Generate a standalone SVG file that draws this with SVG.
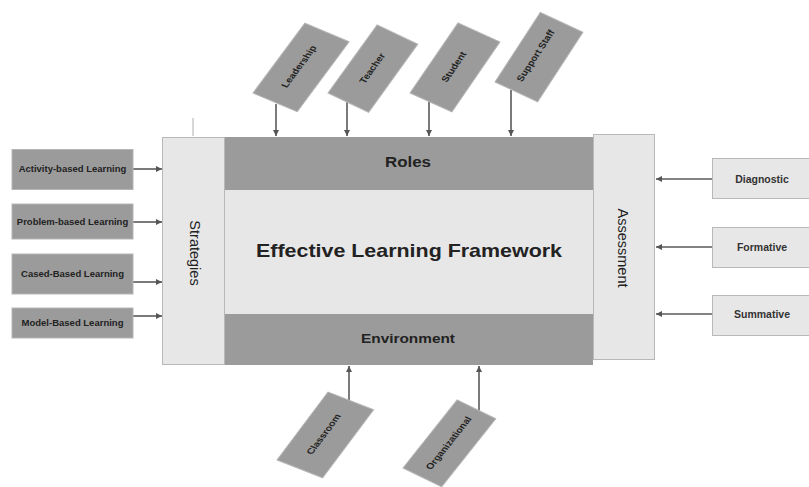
<svg xmlns="http://www.w3.org/2000/svg" width="809" height="487" viewBox="0 0 809 487">
  <defs>
    <marker id="ah" viewBox="0 0 6 6" refX="6" refY="3" markerWidth="6" markerHeight="6" orient="auto" markerUnits="userSpaceOnUse">
      <path d="M0,0 L6,3 L0,6 z" fill="#555"/>
    </marker>
    <style>
      text { font-family: "Liberation Sans", Arial, sans-serif; fill: #222; }
      .dark { fill: #9b9b9b; stroke: #b5b5b5; stroke-width: 1; }
      .light { fill: #e7e7e7; stroke: #b8b8b8; stroke-width: 1; }
      .band { fill: #9b9b9b; }
      .core { fill: #e7e7e7; }
      .conn { stroke: #5a5a5a; stroke-width: 1.6; fill: none; marker-end: url(#ah); }
      .faint { stroke: #b0b0b0; stroke-width: 1; }
      .lbl { font-size: 9.5px; font-weight: bold; text-anchor: middle; }
      .rlbl { font-size: 10.5px; font-weight: bold; text-anchor: middle; fill: #333; }
      .side { font-size: 14.5px; text-anchor: middle; }
      .head { font-weight: bold; text-anchor: middle; }
    </style>
  </defs>

  <rect width="809" height="487" fill="#ffffff"/>

  <!-- connectors -->
  <g id="connectors">
    <!-- strategies into the left panel -->
    <line class="conn" x1="133" y1="169" x2="162" y2="169"/>
    <line class="conn" x1="133" y1="222" x2="162" y2="222"/>
    <line class="conn" x1="133" y1="282" x2="162" y2="282"/>
    <line class="conn" x1="133" y1="316" x2="162" y2="316"/>
    <!-- assessment types into the right panel -->
    <line class="conn" x1="712" y1="179" x2="656" y2="179"/>
    <line class="conn" x1="712" y1="247" x2="656" y2="247"/>
    <line class="conn" x1="712" y1="314" x2="656" y2="314"/>
    <!-- roles from above -->
    <line class="conn" x1="276" y1="104" x2="276" y2="136"/>
    <line class="conn" x1="347" y1="102" x2="347" y2="136"/>
    <line class="conn" x1="429" y1="102" x2="429" y2="136"/>
    <line class="conn" x1="511" y1="90" x2="511" y2="136"/>
    <!-- environment from below -->
    <line class="conn" x1="349" y1="402" x2="349" y2="366"/>
    <line class="conn" x1="479" y1="412" x2="479" y2="366"/>
    <!-- stray guide strokes -->
    <line class="faint" x1="193" y1="118" x2="193" y2="136"/>
    <line class="faint" x1="408" y1="191" x2="408" y2="208"/>
  </g>

  <!-- framework core -->
  <g id="strategies">
    <rect class="light" x="162.5" y="137.5" width="62" height="227"/>
    <text class="side" transform="translate(190 253) rotate(90)">Strategies</text>
  </g>
  <g id="roles">
    <rect class="band" x="225" y="137" width="368" height="53"/>
    <text class="head" x="408" y="167" font-size="14.5" textLength="46" lengthAdjust="spacingAndGlyphs">Roles</text>
  </g>
  <g id="framework">
    <rect class="core" x="225" y="190" width="368" height="124"/>
    <text class="head" x="409" y="257" font-size="18.5" textLength="306" lengthAdjust="spacingAndGlyphs">Effective Learning Framework</text>
  </g>
  <g id="environment">
    <rect class="band" x="225" y="314" width="368" height="51"/>
    <text class="head" x="408" y="343" font-size="13.5" textLength="94" lengthAdjust="spacingAndGlyphs">Environment</text>
  </g>
  <g id="assessment">
    <rect class="light" x="593.5" y="134.5" width="61" height="225"/>
    <text class="side" transform="translate(618 248) rotate(90)">Assessment</text>
  </g>

  <!-- strategy types -->
  <g id="activity-based">
    <rect class="dark" x="12" y="149.5" width="121" height="40"/>
    <text class="lbl" x="72.5" y="172">Activity-based Learning</text>
  </g>
  <g id="problem-based">
    <rect class="dark" x="12" y="204" width="121" height="35"/>
    <text class="lbl" x="72.5" y="224.5">Problem-based Learning</text>
  </g>
  <g id="cased-based">
    <rect class="dark" x="12" y="254" width="121" height="40"/>
    <text class="lbl" x="72.5" y="277">Cased-Based Learning</text>
  </g>
  <g id="model-based">
    <rect class="dark" x="12" y="308" width="121" height="30"/>
    <text class="lbl" x="72.5" y="325.5">Model-Based Learning</text>
  </g>

  <!-- assessment types -->
  <g id="diagnostic">
    <rect class="light" x="712.5" y="158.5" width="100" height="40"/>
    <text class="rlbl" x="762" y="183">Diagnostic</text>
  </g>
  <g id="formative">
    <rect class="light" x="712.5" y="227.5" width="100" height="40"/>
    <text class="rlbl" x="762" y="251">Formative</text>
  </g>
  <g id="summative">
    <rect class="light" x="712.5" y="295.5" width="100" height="40"/>
    <text class="rlbl" x="762" y="318">Summative</text>
  </g>

  <!-- roles (tilted cards) -->
  <g id="leadership" transform="matrix(0.596 -0.803 0.922 0.389 253 93)">
    <rect class="dark" x="0" y="0" width="87" height="48"/>
    <text class="lbl" x="43.5" y="25" font-size="9">Leadership</text>
  </g>
  <g id="teacher" transform="matrix(0.585 -0.811 0.903 0.429 328 93)">
    <rect class="dark" x="0" y="0" width="84" height="45"/>
    <text class="lbl" x="42" y="25" font-size="9">Teacher</text>
  </g>
  <g id="student" transform="matrix(0.565 -0.824 0.911 0.412 410 93)">
    <rect class="dark" x="0" y="0" width="85" height="46"/>
    <text class="lbl" x="42.5" y="25" font-size="9">Student</text>
  </g>
  <g id="support-staff" transform="matrix(0.546 -0.838 0.907 0.422 495 82)">
    <rect class="dark" x="0" y="0" width="83" height="47"/>
    <text class="lbl" x="41.5" y="23" font-size="9">Support Staff</text>
  </g>

  <!-- environment settings (tilted cards) -->
  <g id="classroom" transform="matrix(0.6 -0.8 0.931 0.364 277 460)">
    <rect class="dark" x="0" y="0" width="85" height="49"/>
    <text class="lbl" x="42.5" y="26" font-size="9">Classroom</text>
  </g>
  <g id="organizational" transform="matrix(0.622 -0.783 0.899 0.438 403 468)">
    <rect class="dark" x="0" y="0" width="87" height="43"/>
    <text class="lbl" x="43.5" y="24" font-size="9">Organizational</text>
  </g>
</svg>
